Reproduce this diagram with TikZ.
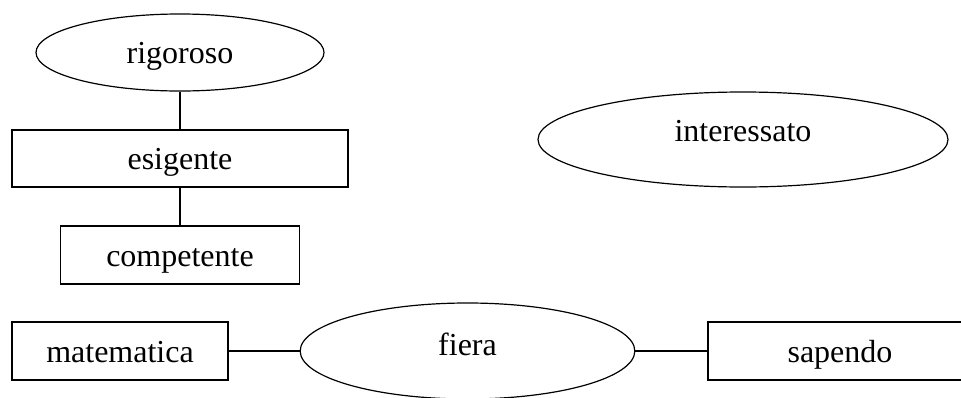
\documentclass[tikz,border=0pt]{standalone}
\usepackage{fontspec}
\setmainfont{Liberation Serif}
\usetikzlibrary{shapes.geometric}

% #1 = how far the baseline sits under the centre (twice, in pt)
\tikzset{
  attr/.style={draw,ellipse,line width=0.9pt,inner sep=0pt,text height=#1,text depth=0pt},
  attr/.default=6pt,
  ent/.style={draw,rectangle,line width=0.9pt,inner sep=0pt,text height=17pt,text depth=0pt},
  link/.style={line width=0.9pt}
}

\begin{document}
\begin{tikzpicture}[x=0.75pt,y=-0.75pt,font=\fontsize{24}{29}\selectfont]
        % page
        \useasboundingbox (0,0) rectangle (961,397);
        \clip (0,0) rectangle (961,397);

        % left column
        \node[attr=15.75pt,minimum width=216pt,minimum height=57.75pt] (rigoroso) at (180,52.5) {rigoroso};
        \node[ent,minimum width=252pt,minimum height=42.75pt] (esigente) at (180,158.5) {esigente};
        \node[ent,minimum width=179pt,minimum height=43.5pt] (competente) at (180,255) {competente};
        \draw[link] (rigoroso) -- (esigente);
        \draw[link] (esigente) -- (competente);

        % alone
        \node[attr=3pt,minimum width=307.5pt,minimum height=71.25pt] (interessato) at (743,139.5) {interessato};

        % bottom row
        \node[ent,minimum width=162pt,minimum height=43.5pt] (matematica) at (120,351) {matematica};
        \node[attr,minimum width=251pt,minimum height=72pt] (fiera) at (467.5,351) {fiera};
        \node[ent,minimum width=198pt,minimum height=43.5pt] (sapendo) at (840,351) {sapendo};
        \draw[link] (matematica) -- (fiera);
        \draw[link] (fiera) -- (sapendo);
\end{tikzpicture}
\end{document}
